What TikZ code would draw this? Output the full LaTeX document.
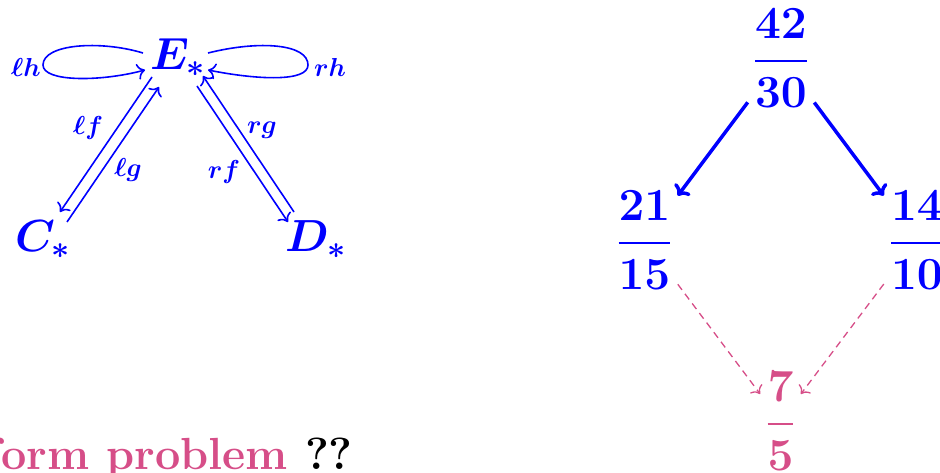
\documentclass[tikz,border=0pt]{standalone}
\usepackage{fix-cm}
\usepackage{amsmath}
\usepackage{fontspec}
\usetikzlibrary{arrows.meta}
\definecolor{myblue}{RGB}{0,0,255}
\definecolor{mypink}{RGB}{214,78,136}
\newcommand{\myfr}[2]{\genfrac{}{}{2pt}{0}{#1}{#2}}
\begin{document}
\begin{tikzpicture}[x=1pt,y=-1pt,
  big/.style={font=\fontsize{45}{54}\selectfont\boldmath, text=myblue, inner sep=0pt},
  frac/.style={font=\fontsize{46}{55}\selectfont\boldmath, text=myblue, inner sep=6pt},
  lab/.style={font=\fontsize{26}{30}\selectfont\boldmath, text=myblue, inner sep=0pt},
  thinarr/.style={draw=myblue, line width=1.6pt, -{Computer Modern Rightarrow[scale=1.5]}},
  thickarr/.style={draw=myblue, line width=3.5pt, ->},
  pinkdash/.style={draw=mypink, line width=1.3pt, dash pattern=on 7pt off 5pt, -{Computer Modern Rightarrow[scale=1.6]}}
]
\useasboundingbox (0,0) rectangle (940,473);
% left diagram
\node[big, anchor=base west] (E) at (150,70) {$E_*$};
\node[big, anchor=base west] (C) at (15,252) {$C_*$};
\node[big, anchor=base west] (D) at (285,252) {$D_*$};
\draw[thinarr] ([shift={(-7,-17)}]E.base west) .. controls +(-43,-13) and +(0,-21) .. ++(-100,12) .. controls +(0,17) and +(-45,12) .. ([shift={(-5,0)}]E.base west);
\draw[thinarr] ([shift={(58,-17)}]E.base west) .. controls +(52,-13) and +(0,-21) .. ++(100,12) .. controls +(0,17) and +(50,10) .. ([shift={(58,0)}]E.base west);
\draw[thinarr] ([shift={(2,7)}]E.base west) -- ([shift={(45,-40)}]C.base west);
\draw[thinarr] ([shift={(52,-30)}]C.base west) -- ([shift={(9,17)}]E.base west);
\draw[thinarr] ([shift={(47,16)}]E.base west) -- ([shift={(3,-30)}]D.base west);
\draw[thinarr] ([shift={(9,-40)}]D.base west) -- ([shift={(53,6)}]E.base west);
\node[lab] (lh) at (26,67) {$\ell h$};
\node[lab] (rh) at (330,67) {$r h$};
\node[lab] (lf) at (88,128) {$\ell f$};
\node[lab] (lg) at (128,170) {$\ell g$};
\node[lab] (rg) at (262,130) {$r g$};
\node[lab] (rf) at (224,172) {$r f$};
% right diagram
\node[frac] (a) at (781,58) {$\myfr{42}{30}$};
\node[frac] (b) at (644.5,240) {$\myfr{21}{15}$};
\node[frac] (c) at (917,240) {$\myfr{14}{10}$};
\node[frac, text=mypink] (d) at (780.5,421) {$\myfr{7}{5}$};
\draw[thickarr] (a) -- (b);
\draw[thickarr] (a) -- (c);
\draw[pinkdash] (b) -- (d);
\draw[pinkdash] (c) -- (d);
% bottom text
\node[font=\fontsize{45}{54}\selectfont\bfseries, anchor=base east, inner sep=0pt] (t) at (353,469) {\textcolor{mypink}{form problem} ??};
\end{tikzpicture}
\end{document}
